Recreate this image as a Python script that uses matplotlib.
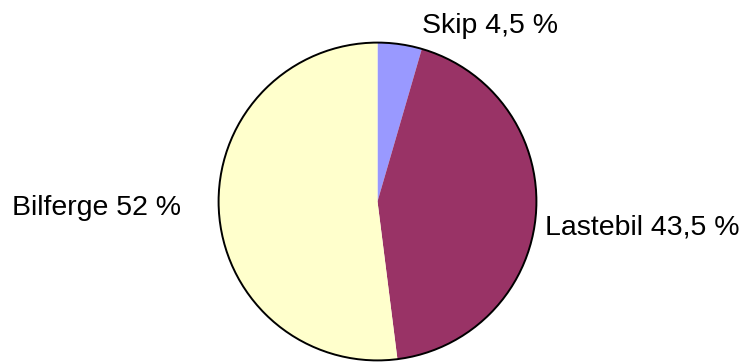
import matplotlib.pyplot as plt
from matplotlib.patches import Circle

labels = ['Skip 4,5 %', 'Lastebil 43,5 %', 'Bilferge 52 %']
shares = [4.5, 43.5, 52.0]
colors = ['#9999FF', '#993366', '#FFFFCC']

plt.rcParams['font.family'] = ['Liberation Sans', 'DejaVu Sans']

fig = plt.figure(figsize=(7.47, 3.63), dpi=100)
W, H = 747, 363
# pie area in pixels: x 217..538, y 41..362
ax = fig.add_axes([217 / W, (H - 362) / H, 321 / W, 321 / H])
ax.pie(shares, colors=colors, startangle=90, counterclock=False,
       radius=1.0, wedgeprops=dict(linewidth=0))
ax.add_patch(Circle((0, 0), 1.0, fill=False, edgecolor='black', linewidth=1.4))
ax.set_xlim(-1.01, 1.01)
ax.set_ylim(-1.01, 1.01)
ax.set_aspect('equal')
ax.axis('off')

# label positions (pixels: left edge, baseline)
pos = [(422, 33), (545, 235), (12, 215)]
for lab, (x, y) in zip(labels, pos):
    fig.text(x / W, 1 - y / H, lab, ha='left', va='baseline', fontsize=20.5)

fig.savefig('out.png', dpi=100)
